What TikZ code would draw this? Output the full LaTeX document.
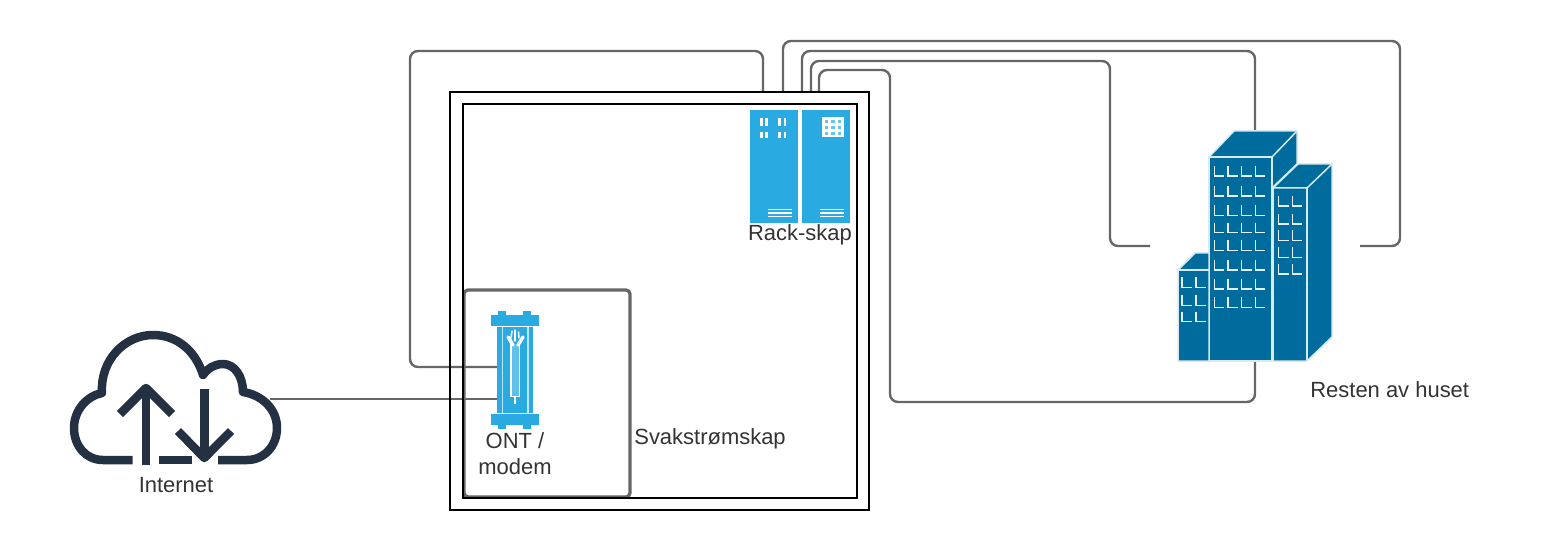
\documentclass[tikz,border=0pt]{standalone}
\usepackage{fontspec}
\setmainfont{Liberation Sans}
\definecolor{wiregray}{HTML}{666666}
\definecolor{iconblue}{HTML}{29ABE2}
\definecolor{housblue}{HTML}{006C9E}
\definecolor{clouddark}{HTML}{233143}
\definecolor{labeldark}{HTML}{333333}
\tikzset{
    wire/.style={draw=wiregray, line width=0.048cm, rounded corners=0.16cm},
    skapbox/.style={draw=black, line width=0.04cm, fill=none, inner sep=0pt},
    holder/.style={inner sep=0pt, outer sep=0pt},
    lbl/.style={text=labeldark, font=\fontsize{12.5}{15}\selectfont, inner sep=0pt},
    cloudline/.style={draw=clouddark, line width=0.17cm, line join=round},
    winline/.style={draw=white!90!housblue, line width=0.03cm},
    houseface/.style={fill=housblue, draw=white!85!housblue, line width=0.03cm, line join=round}
}
\begin{document}
\begin{tikzpicture}[x=0.02cm, y=-0.02cm]
    \useasboundingbox (0, 0) rectangle (1550, 550);

    % Placeholders for the icons
    \node[holder, minimum width=4cm, minimum height=2.6cm] (internet) at (70+200, 399) [anchor=east] {};
    \node[holder, minimum width=0.72cm, minimum height=2.4cm] (ont) at (515, 370) {};
    \node[holder, minimum width=4.2cm, minimum height=4.6cm] (huset) at (1255, 246) {};

    % Free ends on top of the cabinet
    \coordinate (topA) at (763, 92);
    \coordinate (topB) at (783, 92);
    \coordinate (topC) at (802, 92);
    \coordinate (topD) at (811, 92);
    \coordinate (topE) at (819, 92);
    \coordinate (ontport) at (497, 367);

    % Wires
    \draw[wire] (internet.east) -- (internet.east -| ont.west);
    \draw[wire] (ontport) -- (410, 367) -- (410, 51) -- (763, 51) -- (topA);
    \draw[wire] (topB) -- (783, 41) -- (1400, 41) -- (1400, 246) -- (huset.east);
    \draw[wire] (topC) -- (802, 51) -- (1255, 51) -- (huset.north);
    \draw[wire] (topD) -- (811, 61) -- (1110, 61) -- (1110, 246) -- (huset.west);
    \draw[wire] (topE) -- (819, 70) -- (890, 70) -- (890, 402) -- (1255, 402) -- (huset.south);

    % Cabinet boxes
    \node[skapbox, draw=wiregray, line width=0.065cm, rounded corners=0.08cm, minimum width=3.32cm, minimum height=4.14cm] (ontbox) at (547, 393.5) {};
    \node[skapbox, minimum width=8.38cm, minimum height=8.36cm] (skap) at (659.5, 301) {};
    \node[skapbox, minimum width=7.88cm, minimum height=7.88cm] (skapinner) at (660, 301) {};

    % Rack
    \fill[iconblue] (750, 110) rectangle (798, 223);
    \fill[iconblue] (802, 110) rectangle (850, 223);
    \foreach \x in {761.3, 766.7, 779.7, 785} {
        \draw[white, line width=0.05cm] (\x, 118) -- (\x, 126);
        \draw[white, line width=0.05cm] (\x, 132) -- (\x, 138);
    }
    \fill[white] (822.3, 117.3) rectangle (843.7, 137.3);
    \foreach \x in {826.5, 833, 839.5} {
        \foreach \y in {121.5, 127.5, 133.5} {
            \fill[iconblue!70] (\x-1.7, \y-1.7) rectangle (\x+1.7, \y+1.7);
        }
    }
    \foreach \y in {209.3, 213, 216.7} {
        \draw[white, line width=0.03cm] (768, \y) -- (792, \y);
        \draw[white, line width=0.03cm] (820, \y) -- (844, \y);
    }

    % ONT
    \fill[iconblue] (498, 311) rectangle (505.7, 316);
    \fill[iconblue] (523, 311) rectangle (531, 316);
    \fill[iconblue] (490.7, 315) rectangle (538.7, 325.7);
    \fill[iconblue] (497.3, 327) rectangle (533.3, 412.5);
    \fill[iconblue] (490.7, 413.7) rectangle (538.7, 425);
    \fill[iconblue] (498, 424) rectangle (505.7, 429);
    \fill[iconblue] (523, 424) rectangle (531, 429);
    \draw[white!70!iconblue, line width=0.03cm] (502.7, 327) -- (502.7, 413);
    \draw[white!70!iconblue, line width=0.03cm] (528, 327) -- (528, 413);
    \fill[iconblue!75!white] (511, 344) rectangle (519.3, 396.7);
    \draw[white, line width=0.03cm] (511, 344) -- (511, 396.7) -- (519.3, 396.7) -- (519.3, 344);
    \draw[white, line width=0.04cm] (515.2, 396.7) -- (515.2, 404);
    \draw[white, line width=0.07cm, line cap=round] (513, 345) -- (508, 337);
    \draw[white, line width=0.07cm, line cap=round] (518, 345) -- (523, 337);
    \draw[white, line width=0.03cm, line cap=round] (511, 338) -- (512, 331);
    \draw[white, line width=0.03cm, line cap=round] (515.2, 341) -- (515.2, 330);
    \draw[white, line width=0.03cm, line cap=round] (519, 338) -- (518.5, 332);

    % Internet cloud
    \draw[cloudline] (132.7, 460) -- (103, 460)
        .. controls (86, 460) and (74, 446) .. (74, 428)
        .. controls (74, 410) and (87, 396) .. (102, 393)
        .. controls (100, 360) and (125, 335) .. (153, 335)
        .. controls (178, 335) and (196, 352) .. (203, 375)
        .. controls (208, 368) and (215, 364) .. (223, 364)
        .. controls (235, 364) and (243, 377) .. (243, 392)
        .. controls (262, 395) and (277, 409) .. (277, 428)
        .. controls (277, 446) and (264, 460) .. (247, 460)
        -- (218, 460);
    \draw[cloudline] (159, 460) -- (192, 460);
    \draw[cloudline] (146, 465) -- (146, 388);
    \draw[cloudline, line cap=butt] (120, 414) -- (146, 388) -- (172, 414);
    \draw[cloudline] (204.3, 389) -- (204.3, 458);
    \draw[cloudline] (178, 431) -- (204.3, 458) -- (231, 431);

    % House: back tower, right tower, low block
    \fill[houseface] (1209, 157) -- (1234, 131) -- (1297, 131) -- (1297, 164) -- (1272, 188) -- (1272, 157) -- cycle;
    \draw[white!85!housblue, line width=0.03cm] (1272, 157) -- (1297, 131);
    \fill[houseface] (1209, 157) rectangle (1272, 361);
    \fill[houseface] (1273, 188) -- (1298, 164) -- (1332, 164) -- (1332, 337) -- (1307, 361) -- (1273, 361) -- cycle;
    \draw[white!85!housblue, line width=0.03cm] (1273, 188) -- (1307, 188) -- (1332, 164);
    \draw[white!85!housblue, line width=0.03cm] (1307, 188) -- (1307, 361);
    \fill[houseface] (1178, 270) -- (1195, 253) -- (1209, 253) -- (1209, 361) -- (1178, 361) -- cycle;
    \draw[white!85!housblue, line width=0.03cm] (1178, 270) -- (1209, 270);

    % Windows
    \foreach \x in {1214.3, 1228, 1241.7, 1255.3} {
        \foreach \y in {176, 196, 215.3, 232.7, 250.3, 270, 289, 307.3} {
            \draw[winline] (\x, \y-10) -- (\x, \y) -- (\x+10, \y);
        }
    }
    \foreach \x in {1278.7, 1292.3} {
        \foreach \y in {206, 224, 240.3, 257.3, 274} {
            \draw[winline] (\x, \y-10) -- (\x, \y) -- (\x+10, \y);
        }
    }
    \foreach \x in {1182, 1196} {
        \foreach \y in {287.3, 305.3, 321.7} {
            \draw[winline] (\x, \y-10) -- (\x, \y) -- (\x+10, \y);
        }
    }

    % Labels
    \node[lbl] (racklabel) at (800, 235) {Rack-skap};
    \node[lbl] (ontlabel) at (515, 441) {ONT /};
    \node[lbl] (modemlabel) at (515, 467) {modem};
    \node[lbl] (internetlabel) at (176, 485) {Internet};
    \node[lbl, anchor=west] (skaplabel) at (634, 439) {Svakstrømskap};
    \node[lbl, anchor=west] (husetlabel) at (1310, 390) {Resten av huset};
\end{tikzpicture}
\end{document}
